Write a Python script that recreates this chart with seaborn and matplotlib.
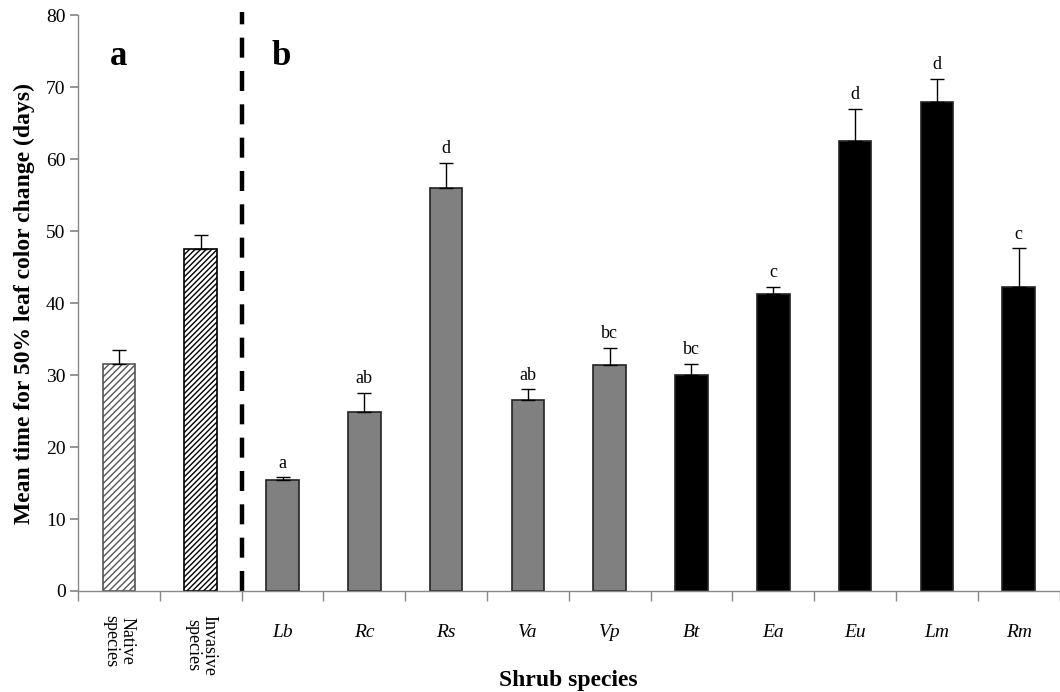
import numpy as np
import pandas as pd
import matplotlib
matplotlib.use("Agg")
import matplotlib.pyplot as plt
import seaborn as sns

categories = ["Native\nspecies", "Invasive\nspecies", "Lb", "Rc", "Rs", "Va", "Vp", "Bt", "Ea", "Eu", "Lm", "Rm"]
means = [31.5, 47.5, 15.4, 24.8, 56.0, 26.5, 31.4, 30.0, 41.2, 62.5, 68.0, 42.3]
errors = [2.0, 2.0, 0.4, 2.7, 3.5, 1.5, 2.4, 1.6, 1.1, 4.5, 3.2, 5.3]
letters = ["", "", "a", "ab", "d", "ab", "bc", "bc", "c", "d", "d", "c"]
fill_colors = ["white", "white"] + ["#808080"] * 5 + ["black"] * 5

sns.set_theme(style="white")
plt.rcParams["font.family"] = ["Liberation Serif", "DejaVu Serif"]
plt.rcParams["hatch.linewidth"] = 1.0
plt.rcParams["text.color"] = "black"
plt.rcParams["axes.labelcolor"] = "black"
plt.rcParams["xtick.labelcolor"] = "black"
plt.rcParams["ytick.labelcolor"] = "black"

df = pd.DataFrame({"cat": categories, "val": means})

fig = plt.figure(figsize=(10.6, 6.92), dpi=100)
ax = fig.add_axes([0.0736, 0.146, 0.926, 0.832])

sns.barplot(data=df, x="cat", y="val", hue="cat", palette=fill_colors,
            width=0.4, edgecolor="black", linewidth=1.2, legend=False,
            saturation=1, ax=ax, errorbar=None)

patches = ax.patches
patches[0].set_hatch("/////")
patches[0].set_edgecolor("#555555")
patches[1].set_hatch("//////")
patches[1].set_edgecolor("black")
for p in patches[2:]:
    p.set_edgecolor("#222222")

x = np.arange(len(categories))
ax.errorbar(x, means, yerr=[np.zeros(len(means)), errors], fmt="none",
            ecolor="black", elinewidth=1.0, capsize=5, capthick=1.0)

for xi, m, e, l in zip(x, means, errors, letters):
    if l:
        ax.text(xi, m + e + 0.8, l, ha="center", va="bottom", fontsize=13, color="black")

ax.set_ylim(0, 80)
ax.set_xlim(-0.5, 11.5)
ax.set_yticks(range(0, 81, 10))
ax.tick_params(axis="y", which="major", direction="out", length=6, color="#888888",
               left=True, labelsize=14, pad=3, labelcolor="black")

ax.set_xticks(x)
ax.set_xticks(np.arange(-0.5, 12, 1), minor=True)
ax.tick_params(axis="x", which="major", length=0, pad=24, labelcolor="black")
ax.tick_params(axis="x", which="minor", direction="out", length=7, color="#888888", bottom=True)
ax.set_xticklabels([""] * 2 + categories[2:])
for t in ax.get_xticklabels()[2:]:
    t.set_fontstyle("italic")
    t.set_fontsize(14)

for i in range(2):
    ax.text(x[i], -3.3, categories[i], rotation=-90, ha="center", va="top",
            fontsize=13, linespacing=0.9, clip_on=False, color="black")

for s in ["top", "right"]:
    ax.spines[s].set_visible(False)
for s in ["left", "bottom"]:
    ax.spines[s].set_color("#888888")
    ax.spines[s].set_linewidth(1.0)

ax.axvline(1.5, ymin=0, ymax=1.005, color="black", lw=3.2, ls=(0, (4.5, 3)), clip_on=False)

ax.text(0.0, 74.3, "a", fontsize=25, fontweight="bold", ha="center", va="center", color="black")
ax.text(1.98, 74.3, "b", fontsize=25, fontweight="bold", ha="center", va="center", color="black")

ax.set_ylabel("Mean time for 50% leaf color change (days)", fontsize=17, fontweight="bold",
              labelpad=8, color="black")
ax.set_xlabel("Shrub species", fontsize=17, fontweight="bold", color="black")
ax.xaxis.set_label_coords(0.5, -0.138)

fig.savefig("out.png", dpi=100)
